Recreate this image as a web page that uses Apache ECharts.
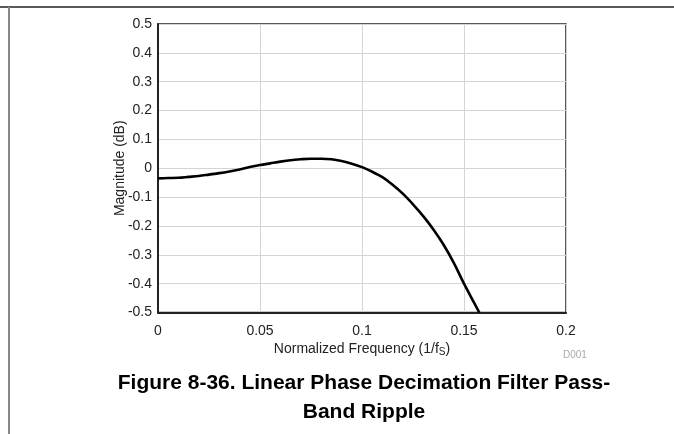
<!DOCTYPE html>
<html>
<head>
<meta charset="utf-8">
<script src="https://cdn.jsdelivr.net/npm/echarts@6/dist/echarts.min.js"></script>
<style>
html,body{margin:0;padding:0;background:#fff;}
#chart{width:674px;height:434px;}
</style>
</head>
<body>
<div id="chart"></div>
<script>
// Normalized frequency (1/fS)
var freq = [0, 0.005, 0.01, 0.015, 0.02, 0.025, 0.03, 0.035, 0.04, 0.045, 0.05, 0.055, 0.06, 0.065, 0.07, 0.075, 0.08, 0.085, 0.09, 0.095, 0.1, 0.105, 0.11, 0.115, 0.12, 0.125, 0.13, 0.135, 0.14, 0.145, 0.15, 0.155, 0.1575];
// Magnitude (dB)
var magnitude = [-0.035, -0.034, -0.033, -0.030, -0.027, -0.022, -0.017, -0.011, -0.004, 0.004, 0.011, 0.017, 0.023, 0.028, 0.031, 0.033, 0.033, 0.031, 0.025, 0.016, 0.004, -0.012, -0.031, -0.057, -0.088, -0.125, -0.166, -0.212, -0.265, -0.328, -0.4, -0.467, -0.5];
var xTicks = [0, 0.05, 0.1, 0.15, 0.2];
var yTicks = [-0.5, -0.4, -0.3, -0.2, -0.1, 0, 0.1, 0.2, 0.3, 0.4, 0.5];
var titleLines = ['Figure 8-36. Linear Phase Decimation Filter Pass-', 'Band Ripple'];

var data = freq.map(function (f, i) { return [f, magnitude[i]]; });
var font = 'Liberation Sans, Arial, sans-serif';

var chart = echarts.init(document.getElementById('chart'), null, {renderer: 'canvas'});
chart.setOption({
  animation: false,
  backgroundColor: '#fff',
  grid: {left: 158, right: 108, top: 24, bottom: 121.5, show: true, borderColor: '#222', borderWidth: 1.5, backgroundColor: 'transparent'},
  xAxis: {
    type: 'value',
    min: xTicks[0], max: xTicks[xTicks.length - 1], interval: 0.05,
    name: 'Normalized Frequency (1/f{sub|S})',
    nameLocation: 'middle', nameGap: 28, nameMoveOverlap: false,
    nameTextStyle: {color: '#222', fontSize: 14, fontFamily: font,
      rich: {sub: {fontSize: 10, verticalAlign: 'bottom', padding: [7, 0, 0, 0], fontFamily: font, color: '#222'}}},
    axisLine: {show: true, onZero: false, lineStyle: {color: '#222', width: 2}},
    axisTick: {show: false},
    axisLabel: {color: '#222', fontSize: 14, fontFamily: font, margin: 11.5,
      formatter: function (v) { return String(+v.toFixed(2)); }},
    splitLine: {show: true, lineStyle: {color: '#d4d4d4', width: 1}}
  },
  yAxis: {
    type: 'value',
    min: yTicks[0], max: yTicks[yTicks.length - 1], interval: 0.1,
    name: 'Magnitude (dB)',
    nameLocation: 'middle', nameGap: 31, nameRotate: 90, nameMoveOverlap: false,
    nameTextStyle: {color: '#222', fontSize: 14, fontFamily: font},
    axisLine: {show: true, onZero: false, lineStyle: {color: '#222', width: 2}},
    axisTick: {show: false},
    axisLabel: {color: '#222', fontSize: 14, fontFamily: font, margin: 6,
      formatter: function (v) { return String(+v.toFixed(1)); }},
    splitLine: {show: true, lineStyle: {color: '#d4d4d4', width: 1}}
  },
  series: [{
    type: 'line',
    data: data,
    smooth: 0.3,
    showSymbol: false,
    clip: true,
    lineStyle: {color: '#000', width: 2.6}
  }],
  graphic: [
    {type: 'line', shape: {x1: 0, y1: 7, x2: 674, y2: 7}, style: {stroke: '#222', lineWidth: 1.5}},
    {type: 'line', shape: {x1: 9, y1: 7, x2: 9, y2: 434}, style: {stroke: '#888', lineWidth: 2}},
    {type: 'text', left: 563, top: 350, style: {text: 'D001', fill: '#aaa', fontSize: 10, fontFamily: font}},
    {type: 'text', x: 364, y: 383, style: {text: titleLines[0], fill: '#000', fontSize: 21, fontWeight: 'bold', fontFamily: font, textAlign: 'center', textVerticalAlign: 'middle'}},
    {type: 'text', x: 364, y: 412, style: {text: titleLines[1], fill: '#000', fontSize: 21, fontWeight: 'bold', fontFamily: font, textAlign: 'center', textVerticalAlign: 'middle'}}
  ]
});
</script>
</body>
</html>
